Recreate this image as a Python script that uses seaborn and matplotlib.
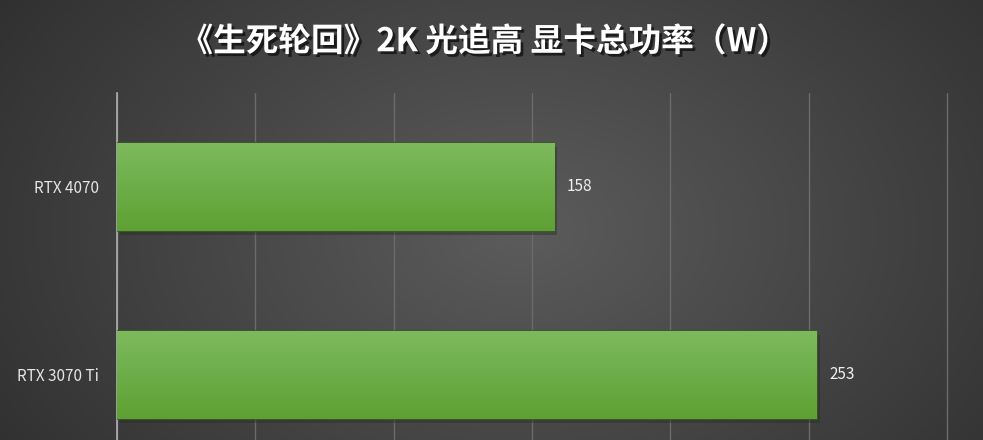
import numpy as np
import pandas as pd
import seaborn as sns
import matplotlib.pyplot as plt
import matplotlib.patheffects as pe

cards = ["RTX 4070", "RTX 3070 Ti"]
power = [158, 253]
title = "《生死轮回》2K 光追高 显卡总功率（W）"

df = pd.DataFrame({"card": cards, "power": power})

sns.set_theme(style="dark")
plt.rcParams['font.family'] = ['Noto Sans CJK SC', 'DejaVu Sans']

fig = plt.figure(figsize=(9.83, 4.4), dpi=100)

# radial gradient background
bg = fig.add_axes([0, 0, 1, 1], zorder=-10)
yy, xx = np.mgrid[0:440, 0:983]
r = np.sqrt(((xx - 520) / 620.0) ** 2 + ((yy - 230) / 420.0) ** 2)
shade = np.clip(0.36 - 0.17 * r, 0.15, 0.36)
bg.imshow(np.dstack([shade] * 3), aspect="auto", extent=[0, 1, 0, 1])
bg.axis("off")

ax = fig.add_axes([117 / 983, 0, 1 - 117 / 983, 347 / 440])
ax.set_facecolor("none")
sns.barplot(data=df, x="power", y="card", orient="h", width=0.47,
            color="#6aac45", ax=ax, zorder=3)

ax.set_xlim(0, 313)
ax.set_ylim(1.346, -0.5)
ax.set_xticks(np.arange(0, 301, 50))
ax.set_xticklabels([])
ax.tick_params(axis="x", length=0)
ax.xaxis.grid(True, color="#6b6b6b", linewidth=1.0)
ax.yaxis.grid(False)
for s in ["top", "right", "bottom"]:
    ax.spines[s].set_visible(False)
ax.spines["left"].set_color("#b0b0b0")
ax.spines["left"].set_linewidth(1.2)
ax.set_xlabel("")
ax.set_ylabel("")
ax.tick_params(axis="y", length=0, pad=13, labelsize=11, labelcolor="#e6e6e6")

# vertical green gradient on each bar
grad = np.linspace(0, 1, 64).reshape(-1, 1)
top = np.array([0.49, 0.73, 0.37])
bot = np.array([0.37, 0.63, 0.20])
img = top + (bot - top) * grad[..., None]
for p in ax.patches:
    x0, y0, w, h = p.get_x(), p.get_y(), p.get_width(), p.get_height()
    im = ax.imshow(img, extent=[x0, x0 + w, y0 + h, y0], aspect="auto",
                   zorder=4, interpolation="bicubic")
    im.set_clip_path(p)
    p.set_edgecolor("#3c5a2c")
    p.set_linewidth(1.2)
    p.set_path_effects([pe.SimplePatchShadow(offset=(2, -3), alpha=0.4),
                        pe.Normal()])

for i, v in enumerate(power):
    ax.text(v + 4.5, i, str(v), va="center", ha="left", fontsize=11,
            color="#f0f0f0", zorder=6)

fig.text(0.493, 0.905, title, ha="center", va="center", fontsize=23.5,
         fontweight="bold", color="white",
         path_effects=[pe.withSimplePatchShadow(offset=(2, -2), alpha=0.6,
                                                shadow_rgbFace="black")])

fig.savefig("out.png", dpi=100)
